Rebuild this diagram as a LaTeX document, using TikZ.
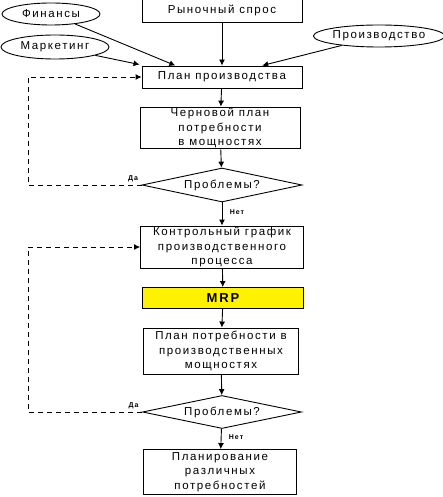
\documentclass[tikz,border=0pt]{standalone}
\usepackage{fontspec}
\setmainfont{Liberation Sans}[LetterSpace=14]
\usetikzlibrary{shapes.geometric,arrows.meta,calc}
\begin{document}
\begin{tikzpicture}[x=1pt,y=-1pt,
  every node/.style={font=\fontsize{11.5}{14.5}\selectfont},
  box/.style={draw,line width=0.9pt,rectangle,align=center,inner sep=1pt},
  oval/.style={draw,line width=0.9pt,ellipse,inner sep=0pt},
  dia/.style={draw,line width=0.9pt,diamond,shape aspect=4.7,inner sep=0pt},
  arr/.style={line width=0.9pt,-{Latex[length=6pt,width=6pt]}},
  darr/.style={line width=0.9pt,dashed,dash pattern=on 5pt off 4pt,-{Latex[length=6pt,width=6pt]}},
  lbl/.style={font=\fontsize{7}{8}\selectfont\bfseries}
]
\useasboundingbox (0,0) rectangle (442,497);
\node[box,minimum width=160pt,minimum height=24pt] (rynok) at (222,10) {Рыночный спрос};
\node[oval,minimum width=98pt,minimum height=22pt] (fin) at (51,14) {Финансы};
\node[oval,minimum width=108pt,minimum height=24pt] (mark) at (55,47) {Маркетинг};
\node[oval,minimum width=122pt,minimum height=22pt] (proizv) at (379,36) {Производство};
\node[box,minimum width=160pt,minimum height=22pt] (plan) at (222,77) {План производства};
\node[box,minimum width=160pt,minimum height=41pt] (chern) at (220,128) {Черновой план\\потребности\\в мощностях};
\node[dia,minimum width=160pt,minimum height=34pt] (d1) at (222,185) {Проблемы?};
\node[box,minimum width=163pt,minimum height=42pt] (kontr) at (222,247) {Контрольный график\\производственного\\процесса};
\node[box,minimum width=161pt,minimum height=21pt,fill=yellow,font=\fontsize{13}{14}\selectfont\bfseries] (mrp) at (223,298) {MRP};
\node[box,minimum width=155pt,minimum height=46pt] (potr) at (221,351) {План потребности в\\производственных\\мощностях};
\node[dia,minimum width=159pt,minimum height=33pt] (d2) at (222,412) {Проблемы?};
\node[box,minimum width=153pt,minimum height=45pt] (planir) at (220,472) {Планирование\\различных\\потребностей};
\coordinate (L) at (28,0);
% arrows into plan
\draw[arr] (mark) -- ($(plan.north west)+(-2,-1)$);
\draw[arr] (fin) -- ($(plan.north west)!0.21!(plan.north east)$);
\draw[arr] (rynok) -- (plan);
\draw[arr] (proizv) -- ($(plan.north west)!0.75!(plan.north east)$);
% main flow
\draw[arr] (plan) -- (chern);
\draw[arr] (chern) -- (d1);
\draw[arr] (d1) -- node[lbl,right,pos=0.4,xshift=4pt] {Нет} (kontr);
\draw[arr] (kontr) -- (mrp);
\draw[arr] (mrp) -- (potr);
\draw[arr] (potr) -- (d2);
\draw[arr] (d2) -- node[lbl,right,pos=0.4,xshift=4pt] {Нет} (planir);
% feedback loops
\draw[darr] (d1.west) -- (d1.west -| L) |- (plan.west);
\draw[darr] (d2.west) -- (d2.west -| L) |- (kontr.west);
\node[lbl,above left] (da1) at (d1.west) {Да};
\node[lbl,above left] (da2) at (d2.west) {Да};
\end{tikzpicture}
\end{document}
